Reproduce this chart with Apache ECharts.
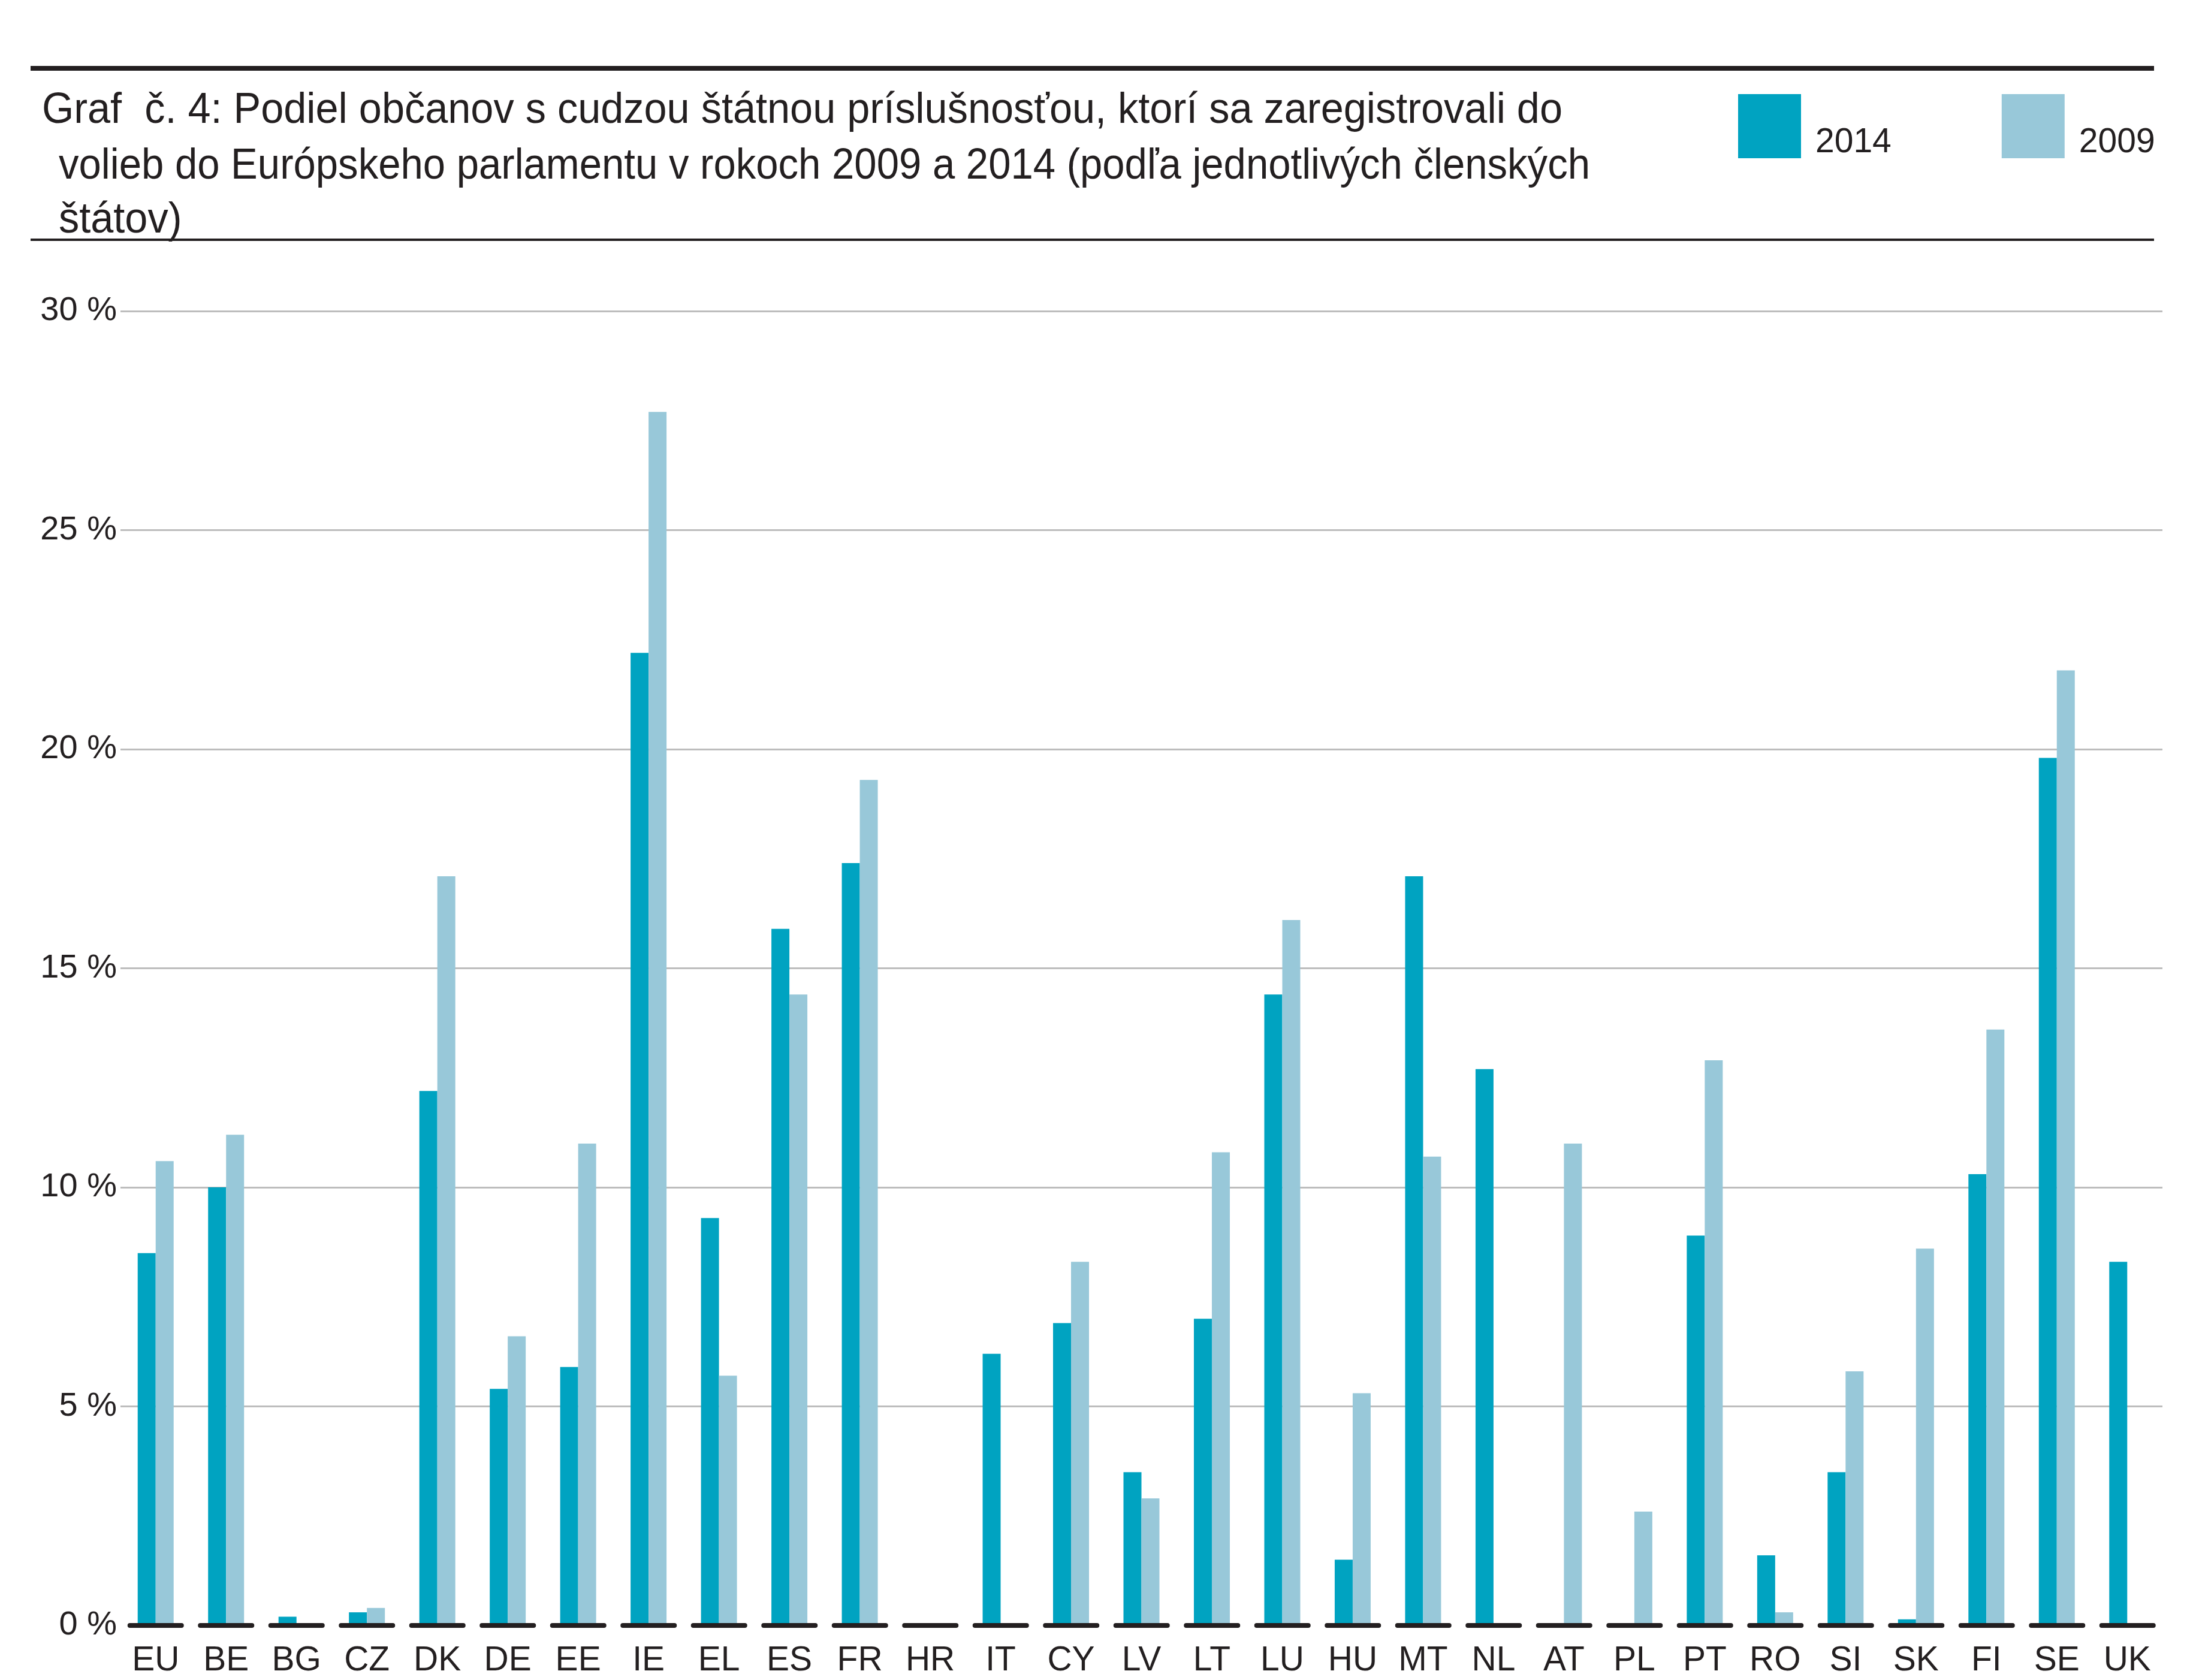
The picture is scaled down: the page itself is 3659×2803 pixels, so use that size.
<!DOCTYPE html>
<html>
<head>
<meta charset="utf-8">
<title>Graf č. 4</title>
<script src="https://cdn.jsdelivr.net/npm/echarts@6/dist/echarts.min.js"></script>
<style>
    html, body { margin: 0; padding: 0; background: #fff; }
    #chart { width: 3659px; height: 2803px; }
</style>
</head>
<body>
<div id="chart"></div>
<script>
// krajiny
var categories = ['EU', 'BE', 'BG', 'CZ', 'DK', 'DE', 'EE', 'IE', 'EL', 'ES', 'FR', 'HR', 'IT', 'CY', 'LV',
    'LT', 'LU', 'HU', 'MT', 'NL', 'AT', 'PL', 'PT', 'RO', 'SI', 'SK', 'FI', 'SE', 'UK'];
// podiel v % - 2014
var values2014 = [8.5, 10.0, 0.2, 0.3, 12.2, 5.4, 5.9, 22.2, 9.3, 15.9, 17.4, 0, 6.2, 6.9, 3.5,
    7.0, 14.4, 1.5, 17.1, 12.7, 0, 0, 8.9, 1.6, 3.5, 0.14, 10.3, 19.8, 8.3];
// podiel v % - 2009
var values2009 = [10.6, 11.2, 0, 0.4, 17.1, 6.6, 11.0, 27.7, 5.7, 14.4, 19.3, 0, 0, 8.3, 2.9,
    10.8, 16.1, 5.3, 10.7, 0, 11.0, 2.6, 12.9, 0.3, 5.8, 8.6, 13.6, 21.8, 0];
var seriesNames = ['2014', '2009'];
var yTicks = [0, 5, 10, 15, 20, 25, 30];

var titleLines = [
    'Graf  č. 4: Podiel občanov s cudzou štátnou príslušnosťou, ktorí sa zaregistrovali do',
    'volieb do Európskeho parlamentu v rokoch 2009 a 2014 (podľa jednotlivých členských',
    'štátov)'
];

(function () {
    let myechart = echarts.init(document.getElementById('chart'));
    let fontFamily = '"Liberation Sans", Arial, Helvetica, sans-serif';
    let textColor = '#231f20';

    // nadpis je v originale zúžený - zmeriame a stlačíme
    let titleFont = '72px ' + fontFamily;
    let ctx = document.createElement('canvas').getContext('2d');
    ctx.font = titleFont;
    let sx1 = 2537 / ctx.measureText(titleLines[0]).width;
    let sx2 = 2555 / ctx.measureText(titleLines[1]).width;
    let titleScale = [sx1, sx2, sx1];

    let titleX = [70, 98, 98];
    let titleY = [149, 242, 332];
    let titleGraphics = titleLines.map(function (line, i) {
        return {
            type: 'text',
            x: titleX[i],
            y: titleY[i],
            scaleX: titleScale[i],
            style: {
                text: line,
                font: titleFont,
                fill: textColor,
                verticalAlign: 'top'
            }
        };
    });

    var option = {
        animation: false,
        backgroundColor: '#ffffff',
        color: ['#00a3c1', '#98c8d9'],
        graphic: [
            // hrubá čiara hore
            { type: 'rect', shape: { x: 51, y: 110, width: 3543, height: 8 }, style: { fill: textColor } },
            // tenká čiara pod nadpisom
            { type: 'rect', shape: { x: 51, y: 398, width: 3543, height: 4 }, style: { fill: textColor } }
        ].concat(titleGraphics),
        legend: {
            left: 2895,
            top: 149,
            itemWidth: 105,
            itemHeight: 107,
            itemGap: 184,
            icon: 'rect',
            data: seriesNames,
            // text je zarovnaný k spodku štvorčeka
            formatter: function (name) {
                return '\n' + name;
            },
            textStyle: {
                fontFamily: fontFamily,
                fontSize: 57,
                lineHeight: 56,
                color: textColor,
                padding: [0, 0, 0, 19]
            }
        },
        grid: {
            left: 201,
            right: 51,
            top: 519,
            bottom: 91,
            containLabel: false
        },
        xAxis: {
            type: 'category',
            data: categories,
            offset: 4,
            z: 5,
            axisTick: { show: false },
            axisLine: {
                show: true,
                lineStyle: {
                    color: textColor,
                    width: 8,
                    type: [86, 31.5],
                    dashOffset: 101.75
                }
            },
            axisLabel: {
                interval: 0,
                margin: 27,
                fontFamily: fontFamily,
                fontSize: 57,
                color: textColor
            }
        },
        yAxis: {
            type: 'value',
            min: yTicks[0],
            max: yTicks[yTicks.length - 1],
            interval: yTicks[1] - yTicks[0],
            axisLine: { show: false },
            axisTick: { show: false },
            axisLabel: {
                margin: 6,
                fontFamily: fontFamily,
                fontSize: 56,
                color: textColor,
                formatter: '{value} %'
            },
            splitLine: {
                show: true,
                showMinLine: false,
                lineStyle: { color: '#bdbdbd', width: 3 }
            }
        },
        series: [
            {
                name: seriesNames[0],
                type: 'bar',
                data: values2014,
                barWidth: 30,
                barGap: '0%'
            },
            {
                name: seriesNames[1],
                type: 'bar',
                data: values2009,
                barWidth: 30,
                barGap: '0%'
            }
        ]
    };

    myechart.setOption(option);
    window.addEventListener('resize', function () {
        myechart.resize();
    });
})();
</script>
</body>
</html>
